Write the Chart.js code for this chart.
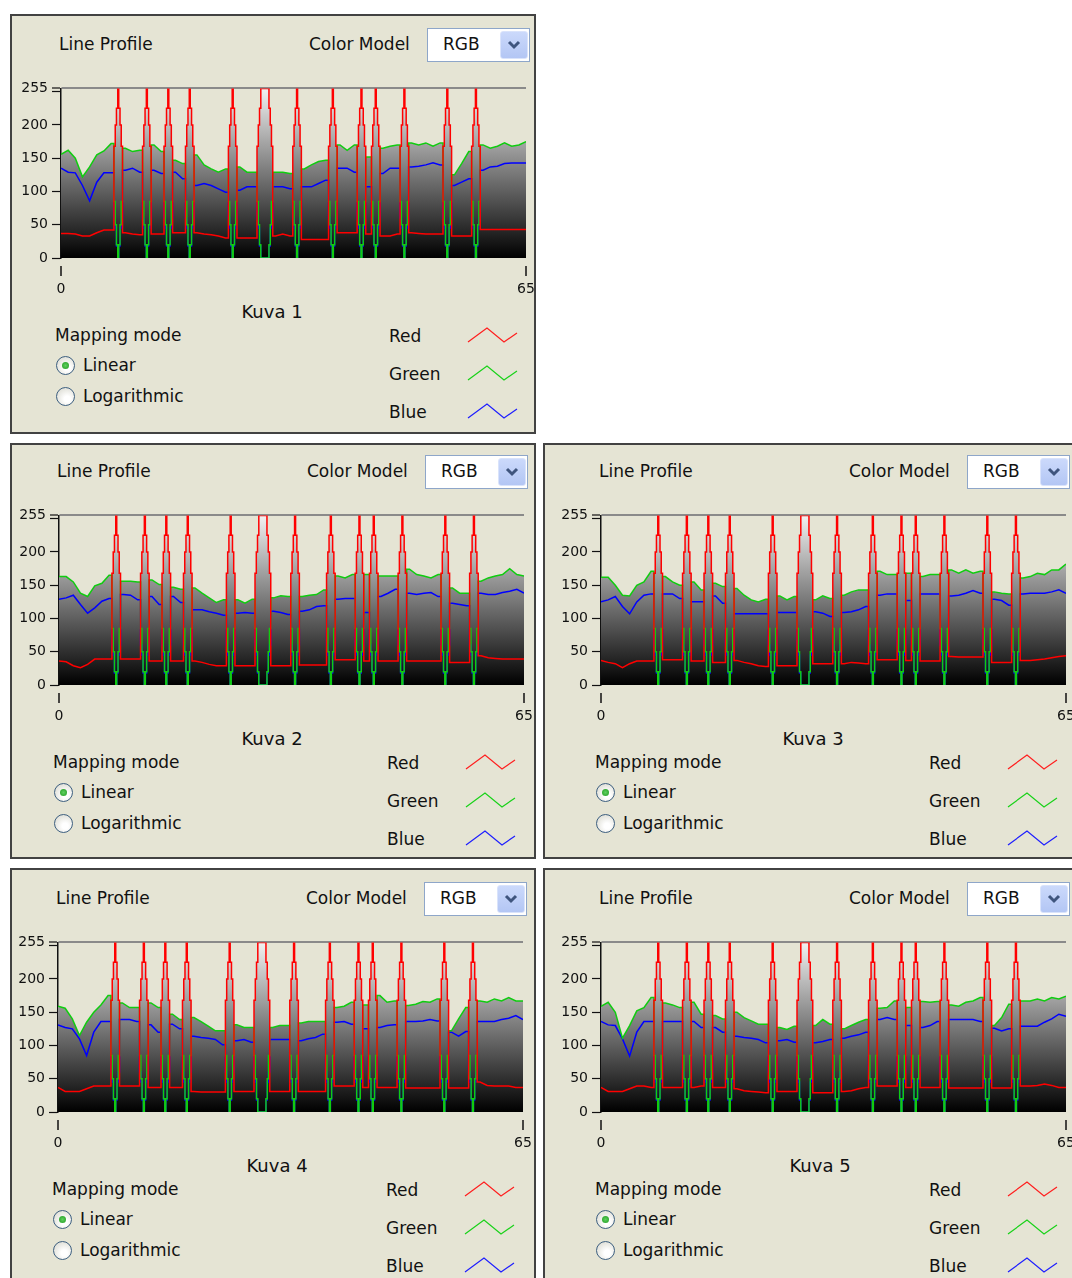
<!DOCTYPE html>
<html>
<head>
<meta charset="utf-8">
<title>Line Profile</title>
<script src="https://cdn.jsdelivr.net/npm/chart.js@4.4.1/dist/chart.umd.min.js"></script>
<style>
  html, body { margin: 0; padding: 0; background: #fff; }
  body { position: relative; width: 1072px; height: 1278px; overflow: hidden; font-family: 'DejaVu Sans', sans-serif; color: #111; }
  .panel { position: absolute; box-sizing: border-box; background: #e5e4d4; border: 2px solid #424242; }
  .txt { position: absolute; white-space: nowrap; font-size: 17px; line-height: 20px; }
  .drop { position: absolute; box-sizing: border-box; background: #fff; border: 1px solid #8ea6c9; }
  .btn { position: absolute; box-sizing: border-box; border-radius: 3px; background: linear-gradient(#cbd9fb, #b3c6f4); border: 1px solid #d9e3fb; }
  .radio { position: absolute; box-sizing: border-box; width: 19px; height: 19px; border-radius: 50%; border: 1px solid #3d5f80; background: radial-gradient(circle at 60% 65%, #ffffff 20%, #dcdcd3 85%); }
  .dot { position: absolute; left: 5px; top: 5px; width: 7px; height: 7px; border-radius: 50%; background: radial-gradient(#5fd05f, #1f9a1f); }
  canvas { position: absolute; }
</style>
</head>
<body>
<script>
// spike pixels shared by all five profiles: [first, last]
const spikes = [[8, 8], [12, 12], [15, 15], [18, 18], [24, 24], [28, 29], [33, 33], [38, 38], [42, 42], [44, 44], [48, 48], [54, 54], [58, 58]];
// step levels at a spike, outermost to centre
const spikeRed = [168, 200, 225, 255];
const spikeGreen = [85, 50, 20, 0];
const spikeBlue = [60, 45, 18, 0];
const spikeHalfWidth = [0.6, 0.42, 0.25, 0.07];

const xTicks = [0, 65];
const yTicks = [0, 50, 100, 150, 200, 255];
const yMinorTicks = [250];

// Kuva 1
const red1 = [37, 37, 36, 33, 33, 38, 42, 42, null, 38,
  36, 35, null, 36, 36, null, 38, 38, null, 38,
  36, 35, 33, 30, null, 30, 30, 30, null, null,
  33, 36, 33, null, 28, 28, 28, 28, null, 38,
  38, 38, null, 36, null, 33, 33, 36, null, 38,
  37, 36, 36, 36, null, 33, 33, 33, null, 43,
  43, 43, 43, 43, 43, 43];
const green1 = [156, 162, 150, 122, 137, 155, 161, 172, null, 165,
  160, 162, null, 170, 160, null, 147, 142, null, 155,
  140, 134, 129, 134, null, 137, 129, 129, null, null,
  129, 129, 127, null, 134, 140, 145, 147, null, 170,
  162, 170, null, 152, null, 165, 168, 170, null, 173,
  170, 173, 168, 173, null, 125, 142, 160, null, 170,
  165, 168, 173, 168, 170, 175];
const blue1 = [135, 129, 128, 109, 86, 114, 128, 128, null, 132,
  135, 129, null, 132, 127, null, 129, 119, null, 109,
  112, 109, 104, 99, null, 102, 107, 107, null, null,
  107, 107, 104, null, 107, 107, 112, 117, null, 135,
  135, 129, null, 107, null, 127, 135, 135, null, 137,
  138, 140, 143, 140, null, 109, 114, 119, null, 132,
  137, 138, 142, 143, 143, 143];

// Kuva 2
const red2 = [36, 35, 29, 26, 31, 39, 39, 39, null, 39,
  39, 39, null, 36, 36, null, 36, 36, null, 36,
  34, 31, 29, 29, null, 29, 29, 29, null, null,
  29, 29, 29, null, 30, 30, 30, 30, null, 38,
  38, 38, null, 36, null, 36, 36, 36, null, 36,
  36, 36, 36, 36, null, 34, 34, 34, null, 44,
  41, 40, 39, 39, 39, 39];
const green2 = [163, 163, 155, 138, 133, 149, 153, 165, null, 156,
  156, 155, null, 158, 151, null, 147, 144, null, 146,
  138, 131, 124, 128, null, 128, 123, 129, null, null,
  131, 134, 133, null, 133, 135, 136, 143, null, 164,
  161, 166, null, 166, null, 164, 164, 164, null, 174,
  166, 164, 161, 166, null, 146, 138, 138, null, 156,
  161, 164, 166, 175, 166, 164];
const blue2 = [129, 131, 135, 121, 108, 116, 126, 130, null, 136,
  135, 128, null, 133, 121, null, 133, 124, null, 113,
  113, 110, 108, 105, null, 108, 109, 108, null, null,
  111, 109, 106, null, 111, 113, 118, 119, null, 129,
  130, 130, null, 109, null, 133, 138, 144, null, 138,
  136, 138, 139, 133, null, 123, 121, 119, null, 138,
  136, 136, 139, 141, 144, 138];

// Kuva 3
const red3 = [37, 34, 32, 26, 32, 36, 36, 36, null, 38,
  38, 38, null, 36, 36, null, 34, 34, null, 37,
  34, 32, 29, 28, null, 29, 29, 29, null, null,
  32, 32, 32, null, 32, 34, 33, 32, null, 38,
  38, 38, null, 37, null, 36, 36, 36, null, 43,
  42, 42, 42, 42, null, 34, 34, 34, null, 37,
  37, 38, 39, 41, 43, 44];
const green3 = [162, 162, 150, 135, 134, 150, 155, 171, null, 163,
  155, 150, null, 155, 143, null, 153, 148, null, 145,
  135, 128, 125, 129, null, 134, 128, 133, null, null,
  128, 134, 130, null, 135, 140, 143, 143, null, 171,
  166, 166, null, 168, null, 163, 166, 166, null, 173,
  168, 173, 168, 171, null, 140, 138, 137, null, 161,
  163, 168, 166, 173, 173, 182];
const blue3 = [125, 128, 133, 118, 107, 125, 135, 137, null, 137,
  137, 130, null, 125, 125, null, 134, 123, null, 107,
  107, 107, 107, 107, null, 109, 109, 109, null, null,
  110, 108, 103, null, 109, 110, 113, 118, null, 135,
  137, 137, null, 127, null, 137, 137, 137, null, 134,
  135, 138, 142, 138, null, 129, 127, 120, null, 137,
  138, 138, 138, 140, 143, 138];

// Kuva 4
const red4 = [37, 31, 31, 31, 35, 39, 39, 39, null, 39,
  39, 39, null, 37, 37, null, 37, 37, null, 31,
  30, 30, 30, 30, null, 31, 31, 31, null, null,
  31, 31, 31, null, 31, 31, 31, 31, null, 39,
  39, 39, null, 37, null, 37, 37, 37, null, 36,
  36, 36, 36, 36, null, 36, 36, 36, null, 45,
  40, 39, 39, 39, 37, 37];
const green4 = [159, 156, 140, 115, 135, 150, 161, 175, null, 164,
  157, 157, null, 164, 157, null, 147, 139, null, 142,
  136, 129, 122, 122, null, 131, 127, 127, null, null,
  127, 130, 130, null, 134, 136, 136, 136, null, 157,
  159, 165, null, 161, null, 175, 165, 167, null, 160,
  162, 166, 165, 170, null, 122, 140, 157, null, 167,
  165, 170, 167, 172, 167, 167];
const blue4 = [131, 127, 125, 110, 85, 120, 136, 136, null, 139,
  139, 136, null, 131, 120, null, 132, 125, null, 114,
  112, 111, 109, 101, null, 107, 109, 105, null, null,
  109, 109, 109, null, 107, 110, 112, 117, null, 135,
  136, 132, null, 125, null, 127, 130, 131, null, 136,
  136, 137, 139, 137, null, 120, 114, 121, null, 136,
  136, 136, 139, 141, 145, 139];

// Kuva 5
const red5 = [37, 31, 31, 31, 35, 39, 39, 37, null, 37,
  37, 37, null, 37, 39, null, 37, 37, null, 35,
  32, 31, 30, 29, null, 31, 31, 31, null, null,
  29, 29, 29, null, 31, 32, 35, 37, null, 39,
  39, 39, null, 37, null, 37, 37, 37, null, 36,
  36, 36, 36, 36, null, 36, 36, 36, null, 39,
  39, 40, 42, 40, 37, 37];
const green5 = [159, 165, 150, 111, 130, 152, 157, 172, null, 164,
  161, 157, null, 165, 147, null, 145, 140, null, 150,
  142, 137, 132, 132, null, 127, 124, 129, null, null,
  130, 139, 132, null, 125, 130, 135, 139, null, 156,
  157, 167, null, 157, null, 166, 165, 166, null, 161,
  159, 165, 167, 172, null, 130, 142, 162, null, 167,
  167, 170, 167, 172, 170, 174];
const blue5 = [136, 131, 130, 110, 84, 120, 136, 136, null, 136,
  136, 136, null, 136, 127, null, 127, 120, null, 114,
  112, 111, 109, 104, null, 107, 109, 105, null, null,
  104, 106, 109, null, 111, 114, 116, 120, null, 139,
  142, 139, null, 130, null, 127, 130, 136, null, 139,
  139, 139, 139, 136, null, 126, 122, 125, null, 129,
  129, 129, 135, 140, 147, 144];

const panels = [
  { title: 'Kuva 1', box: [10, 14, 526, 420], ax: 61, ay: 88, tx: 211, red: red1, green: green1, blue: blue1 },
  { title: 'Kuva 2', box: [10, 443, 526, 416], ax: 59, ay: 515, tx: 213, red: red2, green: green2, blue: blue2 },
  { title: 'Kuva 3', box: [543, 443, 560, 416], ax: 601, ay: 515, tx: 212, red: red3, green: green3, blue: blue3 },
  { title: 'Kuva 4', box: [10, 868, 526, 440], ax: 58, ay: 942, tx: 219, red: red4, green: green4, blue: blue4 },
  { title: 'Kuva 5', box: [543, 868, 560, 440], ax: 601, ay: 942, tx: 219, red: red5, green: green5, blue: blue5 }
];

Chart.defaults.font.family = "'DejaVu Sans', sans-serif";
Chart.defaults.font.size = 14;
Chart.defaults.color = '#111';

// profile points: the pixel values, with the stepped spikes put in
function profile(base, levels) {
  const pts = [];
  let u = 0;
  while (u < base.length) {
    const sp = spikes.find(s => s[0] === u);
    if (sp) {
      const [a, b] = sp;
      const left = base[a - 1], right = base[b + 1];
      for (let k = 0; k < levels.length; k++) {
        const x = a - spikeHalfWidth[k];
        pts.push({ x: x, y: k ? levels[k - 1] : left }, { x: x, y: levels[k] });
      }
      for (let k = levels.length - 1; k >= 0; k--) {
        const x = b + spikeHalfWidth[k];
        pts.push({ x: x, y: levels[k] }, { x: x, y: k ? levels[k - 1] : right });
      }
      u = b + 1;
    } else {
      pts.push({ x: u, y: base[u] });
      u++;
    }
  }
  return pts;
}

function greyFill(context) {
  const { ctx, chartArea } = context.chart;
  if (!chartArea) return null;
  const g = ctx.createLinearGradient(0, chartArea.bottom, 0, chartArea.top);
  g.addColorStop(0, '#000000');
  g.addColorStop(1, '#f2f2f2');
  return g;
}

// x tick marks and labels sit a little below the plot
const xAxisBelow = {
  id: 'xAxisBelow',
  afterDraw(chart) {
    const { ctx, chartArea } = chart;
    const x = chart.scales.x;
    ctx.save();
    ctx.strokeStyle = '#111';
    ctx.fillStyle = '#111';
    ctx.lineWidth = 1.5;
    ctx.font = "14px 'DejaVu Sans', sans-serif";
    ctx.textAlign = 'center';
    ctx.textBaseline = 'middle';
    x.ticks.forEach(t => {
      const px = Math.round(x.getPixelForValue(t.value));
      ctx.beginPath();
      ctx.moveTo(px, chartArea.bottom + 8);
      ctx.lineTo(px, chartArea.bottom + 18);
      ctx.stroke();
      ctx.fillText(String(t.value), px, chartArea.bottom + 31);
    });
    ctx.restore();
  }
};

function add(tag, cls, style, text) {
  const e = document.createElement(tag);
  if (cls) e.className = cls;
  Object.assign(e.style, style);
  if (text !== undefined) e.textContent = text;
  document.body.appendChild(e);
  return e;
}

function label(x, cy, str, size, center) {
  const e = add('div', 'txt', { left: x + 'px', top: (cy - 10) + 'px' }, str);
  if (size) e.style.fontSize = size + 'px';
  if (center) e.style.transform = 'translateX(-50%)';
  return e;
}

function zigzag(x, cy, color) {
  const ns = 'http://www.w3.org/2000/svg';
  const svg = document.createElementNS(ns, 'svg');
  svg.setAttribute('width', 52);
  svg.setAttribute('height', 18);
  Object.assign(svg.style, { position: 'absolute', left: x + 'px', top: (cy - 9) + 'px' });
  const pl = document.createElementNS(ns, 'polyline');
  pl.setAttribute('points', '1,16 20,2 37,16 50,7');
  pl.setAttribute('fill', 'none');
  pl.setAttribute('stroke', color);
  pl.setAttribute('stroke-width', '1.2');
  svg.appendChild(pl);
  document.body.appendChild(svg);
}

panels.forEach(p => {
  const [bl, bt, bw, bh] = p.box;
  add('div', 'panel', { left: bl + 'px', top: bt + 'px', width: bw + 'px', height: bh + 'px' });

  const ax = p.ax, ay = p.ay;
  label(ax - 2, ay - 44, 'Line Profile');
  label(ax + 248, ay - 44, 'Color Model');
  add('div', 'drop', { left: (ax + 366) + 'px', top: (ay - 60) + 'px', width: '103px', height: '34px' });
  label(ax + 382, ay - 44, 'RGB');
  const btn = add('div', 'btn', { left: (ax + 439) + 'px', top: (ay - 57) + 'px', width: '28px', height: '28px' });
  btn.innerHTML = '<svg width="26" height="26" style="position:absolute;left:0;top:0"><polyline points="8,10 13,15 18,10" fill="none" stroke="#3f557e" stroke-width="3"/></svg>';

  label(ax + p.tx, ay + 224, p.title, 18, true);
  label(ax - 6, ay + 247, 'Mapping mode');
  const r1 = add('div', 'radio', { left: (ax - 5) + 'px', top: (ay + 268) + 'px' });
  r1.appendChild(Object.assign(document.createElement('div'), { className: 'dot' }));
  label(ax + 22, ay + 277, 'Linear');
  add('div', 'radio', { left: (ax - 5) + 'px', top: (ay + 299) + 'px' });
  label(ax + 22, ay + 308, 'Logarithmic');

  label(ax + 328, ay + 248, 'Red');
  label(ax + 328, ay + 286, 'Green');
  label(ax + 328, ay + 324, 'Blue');
  zigzag(ax + 406, ay + 247, '#ff1e1e');
  zigzag(ax + 406, ay + 285, '#19d219');
  zigzag(ax + 406, ay + 323, '#1e1eff');

  const r = profile(p.red, spikeRed);
  const g = profile(p.green, spikeGreen);
  const b = profile(p.blue, spikeBlue);
  const top = r.map((pt, i) => ({ x: pt.x, y: Math.max(pt.y, g[i].y, b[i].y) }));

  const canvas = document.createElement('canvas');
  canvas.width = 539;
  canvas.height = 222;
  canvas.style.left = (ax - 60) + 'px';
  canvas.style.top = (ay - 12) + 'px';
  document.body.appendChild(canvas);

  new Chart(canvas.getContext('2d'), {
    type: 'line',
    data: {
      datasets: [
        { label: 'Red', data: r, borderColor: '#ff0000', borderWidth: 1.5, pointRadius: 0, fill: false, order: 1 },
        { label: 'Green', data: g, borderColor: '#10cc10', borderWidth: 1.5, pointRadius: 0, fill: false, order: 2 },
        { label: 'Blue', data: b, borderColor: '#0000ff', borderWidth: 1.5, pointRadius: 0, fill: false, order: 3 },
        { label: 'Intensity', data: top, borderWidth: 0, borderColor: 'rgba(0,0,0,0)', pointRadius: 0, fill: 'origin', backgroundColor: greyFill, order: 4 }
      ]
    },
    options: {
      responsive: false,
      animation: false,
      events: [],
      layout: { padding: { top: 12, right: 14, left: 0, bottom: 0 } },
      plugins: { legend: { display: false }, tooltip: { enabled: false } },
      scales: {
        x: {
          type: 'linear',
          min: 0,
          max: 65,
          afterBuildTicks: scale => { scale.ticks = xTicks.map(v => ({ value: v })); },
          afterFit: scale => { scale.height = 40; },
          grid: { display: false },
          border: { display: false },
          ticks: { display: false }
        },
        y: {
          min: 0,
          max: 255,
          afterBuildTicks: scale => { scale.ticks = yTicks.concat(yMinorTicks).sort((a, c) => a - c).map(v => ({ value: v })); },
          afterFit: scale => { scale.width = 60; },
          border: { display: true, color: '#111', width: 1.5 },
          grid: {
            drawOnChartArea: true,
            color: c => (c.tick && c.tick.value === 255 ? '#8a8a8a' : 'rgba(0,0,0,0)'),
            lineWidth: c => (c.tick && c.tick.value === 255 ? 2 : 1),
            tickColor: '#111',
            tickLength: 9,
            tickWidth: 1.2
          },
          ticks: {
            autoSkip: false,
            padding: 4,
            font: { size: 14 },
            callback: v => (yTicks.includes(v) ? String(v) : '')
          }
        }
      }
    },
    plugins: [xAxisBelow]
  });
});
</script>
</body>
</html>
